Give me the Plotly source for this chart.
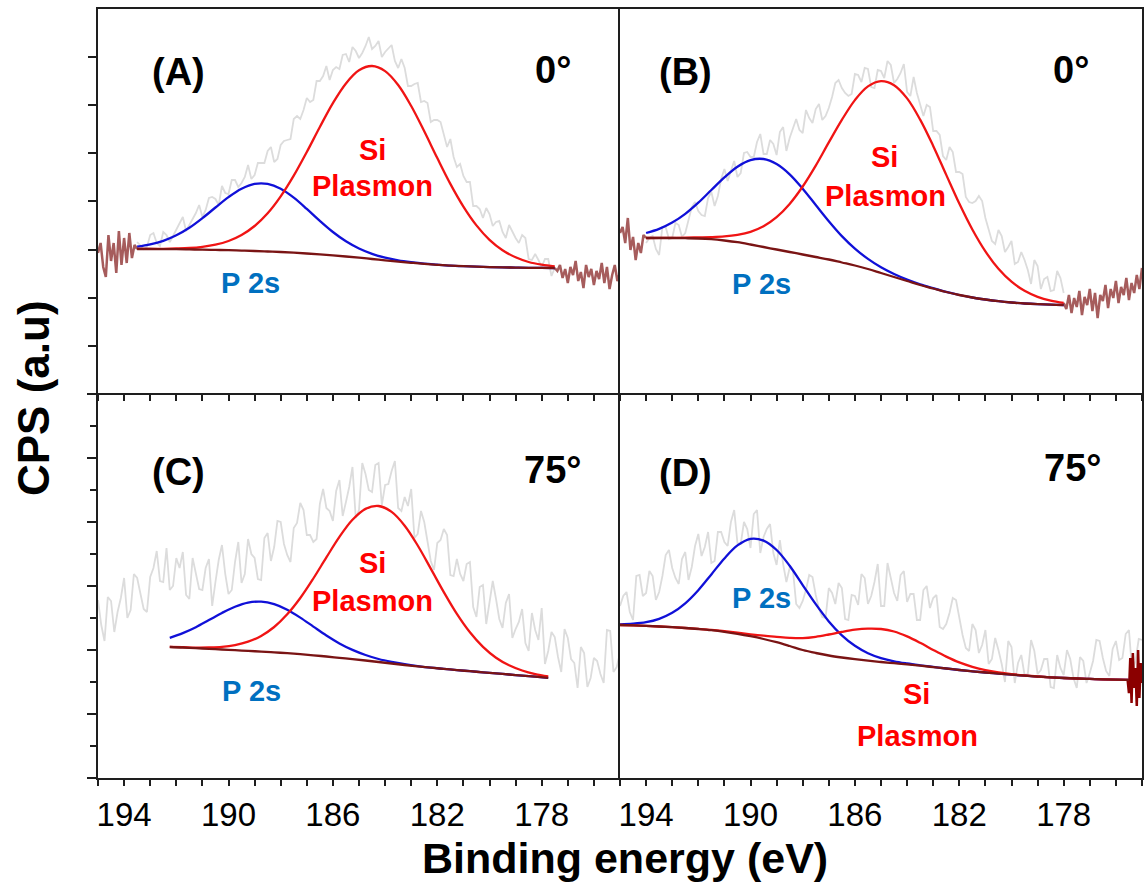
import numpy as np
import plotly.graph_objects as go

W, H = 1146, 891


def grid(start, stop, step):
    """Binding-energy sampling from start down to stop (inclusive)."""
    n = int(round((start - stop) / step)) + 1
    return np.round(start - step * np.arange(n), 3)


# ---------------- (A) 0 deg ----------------
A_fit_E = grid(193.5, 177.5, 0.5)
A_bg = [144.0, 144.0, 143.9, 143.8, 143.6, 143.4, 143.1, 142.8, 142.4, 142.0, 141.5,
        141.0, 140.3, 139.5, 138.6, 137.6, 136.5, 135.3, 134.0, 132.7, 131.4, 130.2,
        129.1, 128.2, 127.4, 126.8, 126.3, 125.9, 125.6, 125.4, 125.2, 125.1, 125.0]
A_p2s = [146.3, 148.6, 152.1, 157.7, 165.2, 174.8, 185.5, 195.9, 204.3, 209.1, 209.1,
         204.3, 195.4, 184.1, 172.1, 161.0, 151.7, 144.5, 139.2, 135.4, 132.7, 130.8,
         129.3, 128.3, 127.4, 126.8, 126.3, 125.9, 125.6, 125.4, 125.2, 125.1, 125.0]
A_si = [144.1, 144.1, 144.2, 144.5, 145.0, 146.2, 148.3, 152.0, 158.0, 167.0, 179.7,
        196.6, 217.3, 241.0, 266.0, 289.9, 309.6, 322.7, 327.0, 321.9, 308.0, 287.0,
        261.7, 234.9, 209.1, 186.4, 167.6, 153.2, 142.8, 135.7, 131.0, 128.3, 126.6]
A_raw_E = grid(193.5, 177.5, 0.125)
A_raw = [151, 148, 144, 146, 158, 160, 150, 147, 161, 158,
         151, 157, 163, 170, 176, 162, 168, 174, 180, 188,
         176, 183, 195, 196, 194, 188, 207, 200, 199, 213,
         213, 206, 210, 216, 228, 214, 218, 230, 230, 230,
         242, 246, 231, 234, 248, 252, 253, 254, 274, 277,
         274, 283, 295, 291, 293, 312, 312, 317, 327, 313,
         323, 326, 324, 338, 339, 331, 346, 342, 335, 340,
         347, 356, 344, 347, 352, 336, 341, 345, 348, 332,
         325, 334, 325, 307, 307, 309, 310, 291, 292, 290,
         271, 273, 273, 271, 257, 246, 254, 236, 226, 229,
         217, 211, 211, 187, 187, 184, 175, 185, 179, 167,
         171, 172, 161, 155, 168, 161, 155, 150, 158, 155,
         134, 133, 139, 133, 126, 134, 134, 117, 125]
A_edge_lo_E = grid(195.0, 193.5, 0.1)
A_edge_lo = [140, 150, 126, 116, 158, 132, 150, 120, 162, 128, 155, 130, 160, 135, 148, 144]
A_edge_hi_E = grid(177.5, 175.0, 0.1)
A_edge_hi = [125, 122, 128, 115, 124, 110, 126, 118, 132, 112, 121, 105, 128, 116, 124,
             108, 122, 114, 130, 110, 126, 104, 118, 128, 112, 120]

# ---------------- (B) 0 deg ----------------
B_fit_E = grid(194.0, 178.0, 0.5)
B_bg = [155.0, 155.0, 155.0, 154.8, 154.5, 153.8, 152.5, 150.8, 148.5, 146.0, 143.5,
        141.0, 138.5, 136.0, 133.5, 130.5, 127.5, 124.0, 120.0, 116.0, 112.0, 108.0,
        104.5, 101.0, 98.0, 95.5, 93.5, 91.8, 90.5, 89.5, 88.8, 88.3, 88.0]
B_p2s = [160.0, 164.1, 170.4, 179.1, 190.3, 203.0, 215.6, 226.3, 232.9, 234.0, 229.0,
         218.7, 204.3, 188.0, 171.8, 156.9, 144.4, 134.1, 125.7, 119.0, 113.4, 108.7,
         104.8, 101.1, 98.0, 95.5, 93.5, 91.8, 90.5, 89.5, 88.8, 88.3, 88.0]
B_si = [155.0, 155.1, 155.2, 155.3, 155.6, 155.9, 156.6, 158.2, 161.2, 166.8, 175.9,
        189.1, 206.5, 227.4, 250.6, 273.1, 292.9, 306.6, 311.8, 307.8, 294.6, 273.4,
        247.1, 218.1, 189.4, 163.5, 141.6, 124.2, 111.3, 102.2, 96.2, 92.4, 90.1]
B_raw_E = grid(194.0, 178.0, 0.125)
B_raw = [150, 155, 157, 144, 138, 166, 166, 154, 155, 170,
         168, 156, 160, 173, 186, 191, 182, 178, 177, 195,
         201, 187, 197, 214, 224, 212, 221, 232, 216, 220,
         240, 241, 236, 236, 251, 259, 239, 239, 253, 249,
         238, 261, 266, 242, 255, 265, 274, 263, 260, 283,
         275, 270, 284, 289, 273, 277, 285, 296, 310, 313,
         305, 300, 297, 299, 319, 318, 311, 325, 324, 306,
         305, 323, 322, 315, 332, 328, 310, 314, 320, 329,
         301, 297, 316, 300, 287, 277, 288, 286, 262, 262,
         258, 237, 233, 246, 241, 221, 221, 219, 196, 191,
         190, 192, 197, 192, 175, 164, 152, 149, 163, 157,
         141, 146, 152, 129, 131, 141, 133, 123, 109, 133,
         127, 104, 114, 116, 102, 103, 122, 115, 100]
B_edge_lo_E = grid(195.0, 194.0, 0.1)
B_edge_lo = [160, 166, 150, 175, 143, 156, 133, 150, 140, 158, 155]
B_edge_hi_E = grid(178.0, 175.0, 0.1)
B_edge_hi = [90, 84, 98, 80, 95, 86, 102, 78, 96, 88, 104, 82, 100, 75, 98, 92, 108, 85,
             104, 95, 112, 90, 106, 98, 115, 93, 110, 100, 118, 104, 125]

# ---------------- (C) 75 deg ----------------
C_fit_E = grid(192.25, 177.75, 0.5)
C_bg = [131.0, 130.5, 129.8, 129.2, 128.5, 127.8, 127.1, 126.4, 125.6, 124.8, 123.8,
        122.7, 121.5, 120.2, 118.9, 117.5, 116.0, 114.5, 113.0, 111.6, 110.3, 109.1,
        107.9, 106.8, 105.7, 104.6, 103.5, 102.4, 101.3, 100.2]
C_p2s = [140.2, 144.9, 150.8, 157.9, 165.1, 171.3, 175.4, 176.4, 173.9, 168.3, 160.4,
         151.4, 142.5, 134.6, 128.1, 123.0, 119.0, 116.1, 113.8, 111.9, 110.3, 109.1,
         107.9, 106.8, 105.7, 104.6, 103.5, 102.4, 101.3, 100.2]
C_si = [131.1, 130.8, 130.4, 130.5, 131.1, 132.9, 136.3, 142.1, 151.0, 163.7, 180.0,
        199.5, 220.6, 241.1, 258.2, 269.1, 272.0, 266.1, 252.3, 232.5, 209.4, 185.9,
        164.1, 145.7, 131.1, 120.3, 112.7, 107.5, 103.9, 101.5]
C_raw_E = grid(195.0, 175.0, 0.125)
C_raw = [178, 153, 137, 181, 177, 146, 166, 180, 200, 160,
         168, 204, 200, 185, 169, 166, 201, 210, 227, 197,
         196, 230, 188, 192, 220, 210, 226, 183, 179, 220,
         204, 189, 188, 210, 219, 172, 196, 218, 233, 204,
         184, 188, 216, 236, 195, 204, 239, 224, 220, 199,
         198, 240, 245, 217, 231, 257, 256, 234, 223, 216,
         250, 255, 275, 268, 243, 243, 236, 239, 274, 289,
         270, 267, 257, 287, 298, 262, 276, 291, 311, 260,
         268, 315, 304, 288, 286, 313, 315, 273, 293, 294,
         307, 317, 270, 267, 281, 272, 289, 240, 244, 267,
         256, 235, 217, 208, 235, 238, 249, 243, 203, 202,
         219, 204, 197, 214, 216, 171, 161, 191, 193, 154,
         175, 197, 179, 159, 150, 175, 184, 140, 149, 156,
         169, 135, 127, 165, 148, 138, 170, 114, 127, 146,
         141, 121, 106, 149, 140, 119, 115, 90, 131, 125,
         91, 100, 120, 117, 104, 95, 148, 147, 106, 111,
         125]

# ---------------- (D) 75 deg ----------------
D_fit_E = grid(195.0, 175.5, 0.5)
D_bg = [153.0, 152.6, 152.1, 151.5, 150.8, 150.0, 149.0, 147.8, 146.2, 144.2, 141.8,
        139.0, 135.8, 132.0, 128.0, 125.0, 122.5, 120.5, 118.8, 117.3, 116.0, 114.8,
        113.6, 112.3, 110.9, 109.5, 108.0, 106.7, 105.5, 104.4, 103.3, 102.3, 101.4,
        100.6, 100.0, 99.5, 99.1, 98.7, 98.4, 98.2]
D_p2s = [153.7, 154.3, 155.8, 159.2, 165.2, 174.7, 187.8, 203.6, 219.6, 232.6, 239.2,
         237.4, 228.0, 212.2, 192.9, 173.8, 156.6, 142.7, 132.2, 124.8, 119.9, 116.7,
         114.5, 112.7, 111.1, 109.5, 108.0, 106.7, 105.5, 104.4, 103.3, 102.3, 101.4,
         100.6, 100.0, 99.5, 99.1, 98.7, 98.4, 98.2]
D_si = [153.0, 152.6, 152.1, 151.5, 150.8, 150.0, 149.1, 148.1, 146.8, 145.3, 143.7,
        142.3, 141.2, 140.2, 139.9, 141.2, 143.5, 146.1, 148.3, 149.4, 149.0, 146.5,
        141.6, 135.2, 128.1, 121.4, 115.6, 111.2, 107.9, 105.6, 103.9, 102.6, 101.5,
        100.6, 100.0, 99.5, 99.1, 98.7, 98.4, 98.2]
D_raw_E = grid(195.0, 175.0, 0.125)
D_raw = [172, 182, 186, 166, 158, 202, 203, 182, 185, 207,
         202, 178, 186, 202, 223, 228, 210, 200, 194, 219,
         226, 198, 211, 232, 244, 222, 231, 246, 215, 217,
         246, 246, 236, 232, 256, 268, 235, 234, 256, 249,
         230, 264, 268, 225, 241, 249, 254, 225, 213, 238,
         214, 196, 210, 208, 174, 170, 177, 188, 203, 201,
         183, 169, 161, 160, 190, 185, 174, 195, 190, 159,
         158, 183, 182, 173, 204, 200, 174, 182, 196, 214,
         172, 172, 215, 198, 185, 177, 203, 207, 176, 184,
         184, 158, 158, 188, 192, 170, 180, 183, 151, 149,
         154, 165, 180, 178, 160, 143, 130, 127, 154, 148,
         125, 133, 148, 114, 119, 140, 128, 114, 96, 137,
         131, 95, 115, 123, 103, 104, 138, 127, 104, 108,
         119, 119, 91, 90, 123, 110, 103, 128, 119, 100,
         90, 121, 117, 95, 105, 117, 138, 137, 120, 107,
         102, 129, 137, 118, 120, 144, 148, 106, 117, 139,
         138]
D_edge_hi_E = grid(175.55, 175.0, 0.05)
D_edge_hi = [98, 85, 120, 75, 125, 90, 110, 72, 128, 80, 115, 95]

# ---------------- styling ----------------
GRAY = "#dcdcdc"
EDGE = "#a65c5c"
EDGE_D = "#8b0000"
BLUE = "#1010d8"
RED = "#f01414"
BG = "#7a1414"
LABEL_BLUE = "#0070c0"
LABEL_RED = "#ff0000"

panels = [
    dict(ax=("x", "y"), raw=(A_raw_E, A_raw), fit=A_fit_E, bg=A_bg, p2s=A_p2s, si=A_si,
         edges=[(A_edge_lo_E, A_edge_lo, EDGE), (A_edge_hi_E, A_edge_hi, EDGE)]),
    dict(ax=("x2", "y2"), raw=(B_raw_E, B_raw), fit=B_fit_E, bg=B_bg, p2s=B_p2s, si=B_si,
         edges=[(B_edge_lo_E, B_edge_lo, EDGE), (B_edge_hi_E, B_edge_hi, EDGE)]),
    dict(ax=("x3", "y3"), raw=(C_raw_E, C_raw), fit=C_fit_E, bg=C_bg, p2s=C_p2s, si=C_si,
         edges=[]),
    dict(ax=("x4", "y4"), raw=(D_raw_E, D_raw), fit=D_fit_E, bg=D_bg, p2s=D_p2s, si=D_si,
         edges=[(D_edge_hi_E, D_edge_hi, EDGE_D)]),
]

fig = go.Figure()
for p in panels:
    xa, ya = p["ax"]
    fig.add_trace(go.Scatter(x=p["raw"][0], y=p["raw"][1], mode="lines",
                             line=dict(color=GRAY, width=1.8), xaxis=xa, yaxis=ya))
    for ex, ey, col in p["edges"]:
        fig.add_trace(go.Scatter(x=ex, y=ey, mode="lines",
                                 line=dict(color=col, width=2.5), xaxis=xa, yaxis=ya))
    fig.add_trace(go.Scatter(x=p["fit"], y=p["p2s"], mode="lines",
                             line=dict(color=BLUE, width=2.3, shape="spline"),
                             xaxis=xa, yaxis=ya))
    fig.add_trace(go.Scatter(x=p["fit"], y=p["si"], mode="lines",
                             line=dict(color=RED, width=2.3, shape="spline"),
                             xaxis=xa, yaxis=ya))
    fig.add_trace(go.Scatter(x=p["fit"], y=p["bg"], mode="lines",
                             line=dict(color=BG, width=2.3, shape="spline"),
                             xaxis=xa, yaxis=ya))


def fx(px):
    return px / W


def fy(py):
    return 1 - py / H


X_LEFT = [fx(98), fx(620)]
X_RIGHT = [fx(620), fx(1142)]
Y_TOP = [fy(393), fy(9)]
Y_BOT = [fy(778), fy(393)]

LINE = dict(showline=True, linecolor="#1e1e1e", linewidth=2,
            showgrid=False, zeroline=False)
TICK = dict(tickwidth=1.5, tickcolor="#1e1e1e")
TICK_FONT = dict(family="Liberation Sans Narrow, Arial Narrow, Liberation Sans, Arial",
                 size=33, color="black")

# upper row: bottom line carries the 1 eV ticks, mirrored line closes the top
x_top = dict(range=[195, 175], ticks="outside", ticklen=6, tick0=0, dtick=1,
             showticklabels=False, mirror=True, **TICK, **LINE)
# lower row: labelled every 4 eV with 1 eV minor ticks
x_bot = dict(range=[195, 175], ticks="outside", ticklen=6, tick0=2, dtick=4,
             showticklabels=True, tickfont=TICK_FONT, mirror=False,
             minor=dict(ticks="outside", ticklen=6, tick0=0, dtick=1, **TICK),
             **TICK, **LINE)

fig.update_layout(
    width=W, height=H,
    margin=dict(l=0, r=0, t=0, b=0),
    paper_bgcolor="white", plot_bgcolor="white",
    showlegend=False,
    xaxis=dict(domain=X_LEFT, anchor="y", **x_top),
    xaxis2=dict(domain=X_RIGHT, anchor="y2", **x_top),
    xaxis3=dict(domain=X_LEFT, anchor="y3", **x_bot),
    xaxis4=dict(domain=X_RIGHT, anchor="y4", **x_bot),
    yaxis=dict(domain=Y_TOP, anchor="x", range=[0, 384], ticks="outside", ticklen=8,
               tick0=47, dtick=48.2, showticklabels=False, mirror=False, **TICK, **LINE),
    yaxis2=dict(domain=Y_TOP, anchor="x2", range=[0, 384], ticks="",
                showticklabels=False, mirror=True, **LINE),
    yaxis3=dict(domain=Y_BOT, anchor="x3", range=[0, 385], ticks="outside", ticklen=9,
                tick0=0.5, dtick=64, showticklabels=False, mirror=False,
                minor=dict(ticks="outside", ticklen=6, tick0=0.5, dtick=32, **TICK),
                **TICK, **LINE),
    yaxis4=dict(domain=Y_BOT, anchor="x4", range=[0, 385], ticks="",
                showticklabels=False, mirror=True, **LINE),
)

BOLD = "Liberation Sans, Arial, sans-serif"


def label(text, px, py, size, color="black", angle=0):
    fig.add_annotation(text=f"<b>{text}</b>", x=fx(px), y=fy(py), xref="paper",
                       yref="paper", showarrow=False, xanchor="center",
                       yanchor="middle", textangle=angle,
                       font=dict(family=BOLD, size=size, color=color))


# panel tags and take-off angles
label("(A)", 178, 72, 38)
label("0°", 553, 70, 38)
label("(B)", 686, 72, 38)
label("0°", 1071, 70, 38)
label("(C)", 178, 472, 38)
label("75°", 552, 470, 38)
label("(D)", 686, 473, 38)
label("75°", 1072, 468, 38)

# component names
for sx, sy, ppx, ppy in [(372, 150, 372, 186), (884, 157, 885, 196),
                         (372, 563, 372, 601), (916, 694, 917, 736)]:
    label("Si", sx, sy, 29, LABEL_RED)
    label("Plasmon", ppx, ppy, 29, LABEL_RED)
for bx, by in [(250, 283), (761, 284), (251, 691), (761, 598)]:
    label("P 2s", bx, by, 29, LABEL_BLUE)

# axis titles
label("CPS (a.u)", 34, 398, 44, angle=-90)
label("Binding energy (eV)", 625, 858, 43)

fig.write_html("out.html")
